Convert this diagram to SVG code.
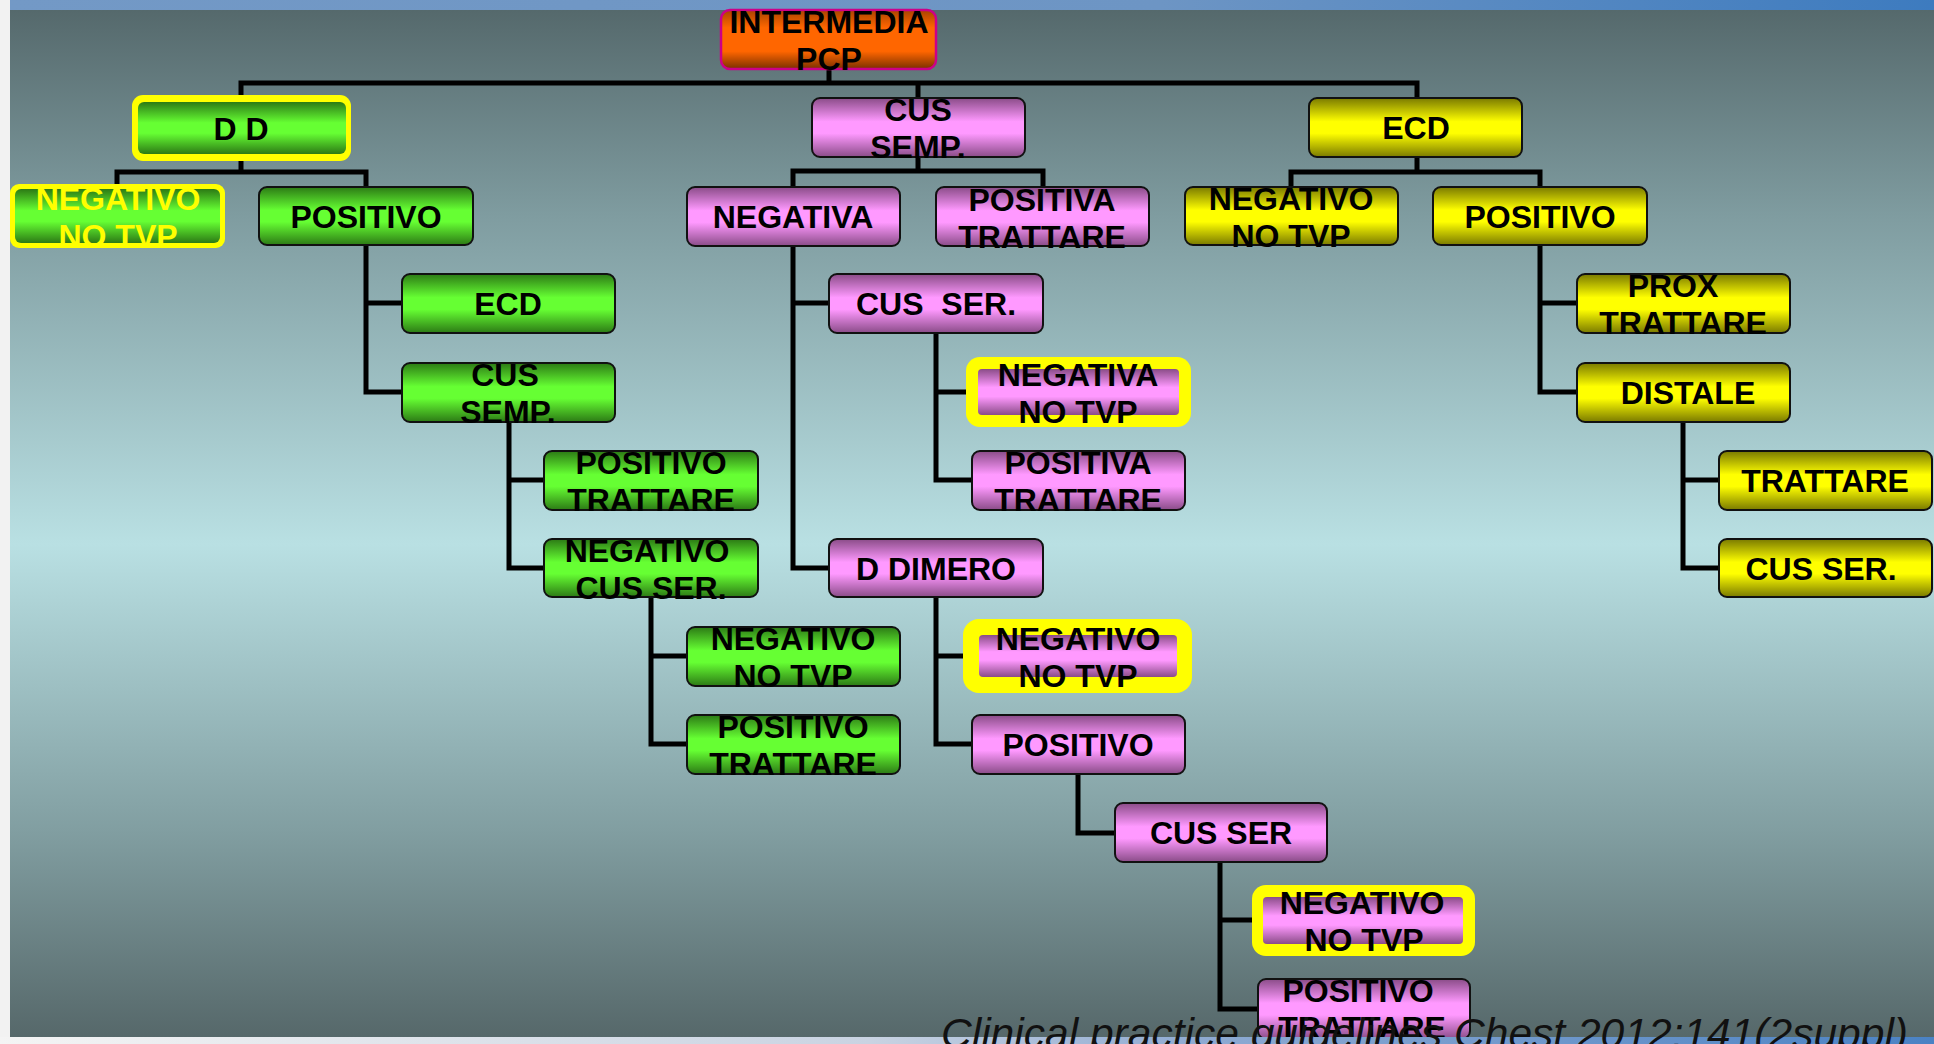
<svg xmlns="http://www.w3.org/2000/svg" width="1934" height="1044" viewBox="0 0 1934 1044">
<defs>
<linearGradient id="bg" x1="0" y1="10" x2="0" y2="1037" gradientUnits="userSpaceOnUse">
<stop offset="0" stop-color="#55696c"/>
<stop offset="0.2" stop-color="#7f9ca0"/>
<stop offset="0.52" stop-color="#b9e0e3"/>
<stop offset="0.8" stop-color="#819ea1"/>
<stop offset="1" stop-color="#56686a"/>
</linearGradient>
<linearGradient id="topbar" x1="0" y1="0" x2="1" y2="0">
<stop offset="0" stop-color="#7399c6"/>
<stop offset="0.6" stop-color="#6d95c4"/>
<stop offset="1" stop-color="#3d7bbf"/>
</linearGradient>
<linearGradient id="botbar" x1="0" y1="0" x2="1" y2="0">
<stop offset="0" stop-color="#f4f4f4"/>
<stop offset="0.45" stop-color="#c9d3e2"/>
<stop offset="0.62" stop-color="#8eaad2"/>
<stop offset="1" stop-color="#4a82c4"/>
</linearGradient>
<linearGradient id="gG" x1="0" y1="0" x2="0" y2="1">
<stop offset="0" stop-color="#2c7a15"/>
<stop offset="0.4" stop-color="#66ff33"/>
<stop offset="0.6" stop-color="#66ff33"/>
<stop offset="1" stop-color="#2c7a15"/>
</linearGradient>
<linearGradient id="gP" x1="0" y1="0" x2="0" y2="1">
<stop offset="0" stop-color="#8a4c88"/>
<stop offset="0.4" stop-color="#ff99ff"/>
<stop offset="0.6" stop-color="#ff99ff"/>
<stop offset="1" stop-color="#8a4c88"/>
</linearGradient>
<linearGradient id="gY" x1="0" y1="0" x2="0" y2="1">
<stop offset="0" stop-color="#7a7a00"/>
<stop offset="0.4" stop-color="#ffff00"/>
<stop offset="0.6" stop-color="#ffff00"/>
<stop offset="1" stop-color="#7a7a00"/>
</linearGradient>
<linearGradient id="gO" x1="0" y1="0" x2="0" y2="1">
<stop offset="0" stop-color="#a84300"/>
<stop offset="0.3" stop-color="#ff6600"/>
<stop offset="0.7" stop-color="#ff6600"/>
<stop offset="1" stop-color="#7a3000"/>
</linearGradient>
</defs>
<style>
.b{stroke:#111;stroke-width:2}
.g{fill:url(#gG)}
.p{fill:url(#gP)}
.y{fill:url(#gY)}
.o{fill:url(#gO);stroke:#cc0088;stroke-width:2.5}
.hl{fill:#ffff00}
.t{font-family:"Liberation Sans",Arial,sans-serif;font-weight:bold;font-size:32px;fill:#000;text-anchor:middle;white-space:pre}
.ty{fill:#ffff00}
.c{fill:none;stroke:#000;stroke-width:5;stroke-linejoin:miter;stroke-linecap:square}
.foot{font-family:"Liberation Sans",Arial,sans-serif;font-style:italic;font-size:43px;fill:#111}
</style>
<rect x="0" y="0" width="1934" height="1044" fill="url(#bg)"/>
<rect x="0" y="0" width="1934" height="10" fill="url(#topbar)"/>
<rect x="0" y="0" width="10" height="1044" fill="#f2f2f2"/>

<g id="connectors">
<path class="c" d="M241 98 V83 H1417 V98 M829 69 V83 M918 83 V98"/>
<path class="c" d="M241 161 V172 M117 184 V172 H366 V187"/>
<path class="c" d="M918 157 V171 M793 187 V171 H1043 V187"/>
<path class="c" d="M1417 157 V172 M1291 187 V172 H1540 V187"/>
<path class="c" d="M366 245 V392 H402 M366 303 H402"/>
<path class="c" d="M509 422 V568 H544 M509 480 H544"/>
<path class="c" d="M651 597 V744 H687 M651 656 H687"/>
<path class="c" d="M793 246 V568 H829 M793 303 H829"/>
<path class="c" d="M936 333 V480 H972 M936 392 H966"/>
<path class="c" d="M936 597 V744 H972 M936 656 H963"/>
<path class="c" d="M1078 774 V833 H1115"/>
<path class="c" d="M1220 862 V1009 H1258 M1220 920 H1252"/>
<path class="c" d="M1540 245 V392 H1577 M1540 303 H1577"/>
<path class="c" d="M1683 422 V568 H1719 M1683 480 H1719"/>
</g>

<g id="n_pcp"><rect class="o" x="721" y="10" width="215" height="59" rx="9"/><text class="t" x="829" y="33">INTERMEDIA</text><text class="t" x="829" y="70">PCP</text></g>
<g id="n_dd"><rect class="hl" x="132" y="95" width="219" height="66" rx="11"/><rect class="g" x="138" y="102" width="208" height="52" rx="6"/><text class="t" x="241" y="140">D D</text></g>
<g id="n_cussemp_p"><rect class="p b" x="812" y="98" width="213" height="59" rx="8"/><text class="t" x="918" y="121">CUS</text><text class="t" x="918" y="158">SEMP.</text></g>
<g id="n_ecd_y"><rect class="y b" x="1309" y="98" width="213" height="59" rx="8"/><text class="t" x="1416" y="139">ECD</text></g>

<g id="n_neg_g"><rect class="hl" x="10" y="184" width="215" height="64" rx="9"/><rect class="g" x="15" y="189" width="205" height="54" rx="6"/><text class="t ty" x="118" y="210">NEGATIVO</text><text class="t ty" x="118" y="247">NO TVP</text></g>
<g id="n_pos_g"><rect class="g b" x="259" y="187" width="214" height="58" rx="8"/><text class="t" x="366" y="228">POSITIVO</text></g>
<g id="n_negativa"><rect class="p b" x="687" y="187" width="213" height="59" rx="8"/><text class="t" x="793" y="228">NEGATIVA</text></g>
<g id="n_positiva"><rect class="p b" x="936" y="187" width="213" height="59" rx="8"/><text class="t" x="1042" y="211">POSITIVA</text><text class="t" x="1042" y="248">TRATTARE</text></g>
<g id="n_neg_y"><rect class="y b" x="1185" y="187" width="213" height="58" rx="8"/><text class="t" x="1291" y="210">NEGATIVO</text><text class="t" x="1291" y="247">NO TVP</text></g>
<g id="n_pos_y"><rect class="y b" x="1433" y="187" width="214" height="58" rx="8"/><text class="t" x="1540" y="228">POSITIVO</text></g>

<g id="n_ecd_g"><rect class="g b" x="402" y="274" width="213" height="59" rx="8"/><text class="t" x="508" y="315">ECD</text></g>
<g id="n_cusser_p"><rect class="p b" x="829" y="274" width="214" height="59" rx="8"/><text class="t" x="936" y="315">CUS  SER.</text></g>
<g id="n_prox"><rect class="y b" x="1577" y="274" width="213" height="59" rx="8"/><text class="t" x="1673" y="297">PROX</text><text class="t" x="1683" y="334">TRATTARE</text></g>

<g id="n_cussemp_g"><rect class="g b" x="402" y="363" width="213" height="59" rx="8"/><text class="t" x="505" y="386">CUS</text><text class="t" x="508" y="423">SEMP.</text></g>
<g id="n_negativa_hl"><rect class="hl" x="966" y="357" width="225" height="70" rx="14"/><rect class="p" x="978" y="369" width="201" height="46" rx="4"/><text class="t" x="1078" y="386">NEGATIVA</text><text class="t" x="1078" y="423">NO TVP</text></g>
<g id="n_distale"><rect class="y b" x="1577" y="363" width="213" height="59" rx="8"/><text class="t" x="1688" y="404">DISTALE</text></g>

<g id="n_postratt_g"><rect class="g b" x="544" y="451" width="214" height="59" rx="8"/><text class="t" x="651" y="474">POSITIVO</text><text class="t" x="651" y="511">TRATTARE</text></g>
<g id="n_positiva2"><rect class="p b" x="972" y="451" width="213" height="59" rx="8"/><text class="t" x="1078" y="474">POSITIVA</text><text class="t" x="1078" y="511">TRATTARE</text></g>
<g id="n_trattare_y"><rect class="y b" x="1719" y="451" width="213" height="59" rx="8"/><text class="t" x="1825" y="492">TRATTARE</text></g>

<g id="n_negcus_g"><rect class="g b" x="544" y="539" width="214" height="58" rx="8"/><text class="t" x="647" y="562">NEGATIVO</text><text class="t" x="651" y="599">CUS SER.</text></g>
<g id="n_ddimero"><rect class="p b" x="829" y="539" width="214" height="58" rx="8"/><text class="t" x="936" y="580">D DIMERO</text></g>
<g id="n_cusser_y"><rect class="y b" x="1719" y="539" width="213" height="58" rx="8"/><text class="t" x="1821" y="580">CUS SER.</text></g>

<g id="n_negno_g"><rect class="g b" x="687" y="627" width="213" height="59" rx="8"/><text class="t" x="793" y="650">NEGATIVO</text><text class="t" x="793" y="687">NO TVP</text></g>
<g id="n_neg_hl2"><rect class="hl" x="963" y="619" width="229" height="74" rx="16"/><rect class="p" x="979" y="635" width="198" height="42" rx="4"/><text class="t" x="1078" y="650">NEGATIVO</text><text class="t" x="1078" y="687">NO TVP</text></g>

<g id="n_postratt_g2"><rect class="g b" x="687" y="715" width="213" height="59" rx="8"/><text class="t" x="793" y="738">POSITIVO</text><text class="t" x="793" y="775">TRATTARE</text></g>
<g id="n_pos_p"><rect class="p b" x="972" y="715" width="213" height="59" rx="8"/><text class="t" x="1078" y="756">POSITIVO</text></g>

<g id="n_cusser_p2"><rect class="p b" x="1115" y="803" width="212" height="59" rx="8"/><text class="t" x="1221" y="844">CUS SER</text></g>
<g id="n_neg_hl3"><rect class="hl" x="1252" y="885" width="223" height="71" rx="14"/><rect class="p" x="1263" y="897" width="200" height="47" rx="4"/><text class="t" x="1362" y="914">NEGATIVO</text><text class="t" x="1364" y="951">NO TVP</text></g>
<g id="n_postratt_p"><rect class="p b" x="1258" y="979" width="212" height="60" rx="8"/><text class="t" x="1358" y="1002">POSITIVO</text><text class="t" x="1362" y="1039">TRATTARE</text></g>

<rect x="0" y="1037" width="1934" height="7" fill="url(#botbar)"/>
<text class="foot" x="941" y="1048" textLength="967" lengthAdjust="spacingAndGlyphs">Clinical practice guidelines Chest 2012;141(2suppl)</text>
</svg>
